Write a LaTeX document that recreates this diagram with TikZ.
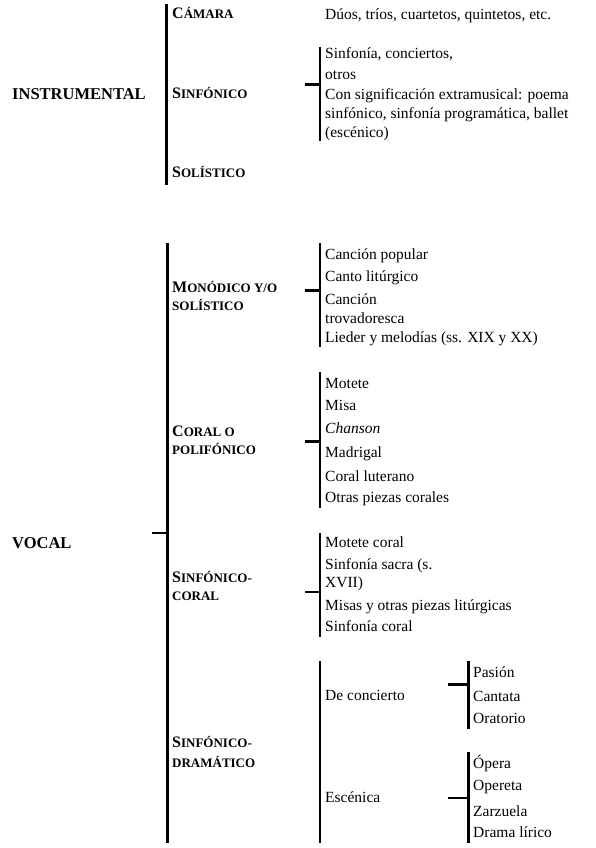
\documentclass[tikz,border=0pt]{standalone}
\usepackage{fontspec}
\setmainfont{Liberation Serif}
\newcommand{\bodyfont}{\fontsize{15.5}{19}\selectfont}
\newcommand{\scap}[2]{{\fontsize{16}{16}\selectfont #1}{\fontsize{13}{13}\selectfont #2}}
\newcommand{\smc}[1]{{\fontsize{13}{13}\selectfont #1}}
\tikzset{
  txt/.style={anchor=base west, inner sep=0pt, font=\bodyfont},
  head/.style={anchor=base west, inner sep=0pt, font=\fontsize{16.5}{16.5}\selectfont\bfseries},
  sub/.style={anchor=base west, inner sep=0pt, font=\bfseries},
  thickbar/.style={line width=3pt},
  thinbar/.style={line width=1.8pt}
}
\begin{document}
\begin{tikzpicture}[x=1pt,y=-1pt]
\useasboundingbox[fill=white] (0,0) rectangle (596,848);

% ---------- INSTRUMENTAL ----------
\node[head] (instr) at (12,99.5) {INSTRUMENTAL};
\node[sub] (camara) at (172,18.5) {\scap{C}{ÁMARA}};
\node[sub] (sinf) at (172,98.5) {\scap{S}{INFÓNICO}};
\node[sub] (solis) at (172,177.5) {\scap{S}{OLÍSTICO}};
\node[txt] (duos) at (325,19.5) {Dúos, tríos, cuartetos, quintetos, etc.};
\node[txt] (s1) at (325,58.5) {Sinfonía, conciertos,};
\node[txt] (s2) at (325,79.5) {otros};
\node[txt] (s3) at (325,99.5) {Con significación extramusical: poema};
\node[txt] (s4) at (325,118.5) {sinfónico, sinfonía programática, ballet};
\node[txt] (s5) at (325,137.5) {(escénico)};

\coordinate (iT) at (166,4);   \coordinate (iB) at (166,185);
\draw[thickbar] (iT) -- (iB);
\coordinate (sfT) at (320,47); \coordinate (sfB) at (320,141);
\coordinate (sfK) at (305,85); \coordinate (sfJ) at (320,85);
\draw[thinbar] (sfT) -- (sfB);
\draw[thickbar] (sfK) -- (sfJ);

% ---------- VOCAL ----------
\node[head] (vocal) at (12,548.5) {VOCAL};
\coordinate (vT) at (167,243); \coordinate (vB) at (167,843);
\coordinate (vK) at (152,533); \coordinate (vJ) at (167,533);
\draw[thickbar] (vT) -- (vB);
\draw[thinbar] (vK) -- (vJ);

% Monodico
\node[sub] (monoA) at (172,292.5) {\scap{M}{ONÓDICO Y/O}};
\node[sub] (monoB) at (172,310.5) {\smc{SOLÍSTICO}};
\node[txt] (m1) at (325,259.5) {Canción popular};
\node[txt] (m2) at (325,281.5) {Canto litúrgico};
\node[txt] (m3) at (325,304.5) {Canción};
\node[txt] (m4) at (325,323.5) {trovadoresca};
\node[txt] (m5) at (325,342.5) {Lieder y melodías (ss. XIX y XX)};
\coordinate (mT) at (320,243); \coordinate (mB) at (320,347);
\coordinate (mK) at (305,290); \coordinate (mJ) at (320,290);
\draw[thinbar] (mT) -- (mB);
\draw[thickbar] (mK) -- (mJ);

% Coral
\node[sub] (coralA) at (172,436.5) {\scap{C}{ORAL O}};
\node[sub] (coralB) at (172,454.5) {\smc{POLIFÓNICO}};
\node[txt] (c1) at (325,388.5) {Motete};
\node[txt] (c2) at (325,410.5) {Misa};
\node[txt] (c3) at (325,433.5) {\itshape Chanson};
\node[txt] (c4) at (325,457.5) {Madrigal};
\node[txt] (c5) at (325,481.5) {Coral luterano};
\node[txt] (c6) at (325,502.5) {Otras piezas corales};
\coordinate (cT) at (320,372); \coordinate (cB) at (320,508);
\coordinate (cK) at (305,441); \coordinate (cJ) at (320,441);
\draw[thinbar] (cT) -- (cB);
\draw[thickbar] (cK) -- (cJ);

% Sinfonico-coral
\node[sub] (scA) at (172,582.5) {\scap{S}{INFÓNICO-}};
\node[sub] (scB) at (172,600.5) {\smc{CORAL}};
\node[txt] (k1) at (325,547.5) {Motete coral};
\node[txt] (k2) at (325,569.5) {Sinfonía sacra (s.};
\node[txt] (k3) at (325,587.5) {XVII)};
\node[txt] (k4) at (325,610.5) {Misas y otras piezas litúrgicas};
\node[txt] (k5) at (325,631.5) {Sinfonía coral};
\coordinate (kT) at (320,533); \coordinate (kB) at (320,637);
\coordinate (kK) at (305,592); \coordinate (kJ) at (320,592);
\draw[thinbar] (kT) -- (kB);
\draw[thinbar] (kK) -- (kJ);

% Sinfonico-dramatico
\node[sub] (sdA) at (172,747.5) {\scap{S}{INFÓNICO-}};
\node[sub] (sdB) at (172,767.5) {\smc{DRAMÁTICO}};
\coordinate (dT) at (320,661); \coordinate (dB) at (320,843);
\draw[thinbar] (dT) -- (dB);
\node[txt] (conc) at (325,700.5) {De concierto};
\node[txt] (esc) at (325,802.5) {Escénica};

\node[txt] (p1) at (473,677.5) {Pasión};
\node[txt] (p2) at (473,701.5) {Cantata};
\node[txt] (p3) at (473,723.5) {Oratorio};
\coordinate (pT) at (468,661); \coordinate (pB) at (468,729);
\coordinate (pK) at (448,684); \coordinate (pJ) at (468,684);
\draw[thickbar] (pT) -- (pB);
\draw[thickbar] (pK) -- (pJ);

\node[txt] (e1) at (473,768.5) {Ópera};
\node[txt] (e2) at (473,790.5) {Opereta};
\node[txt] (e3) at (473,816.5) {Zarzuela};
\node[txt] (e4) at (473,837.5) {Drama lírico};
\coordinate (eT) at (468,752); \coordinate (eB) at (468,843);
\coordinate (eK) at (448,798); \coordinate (eJ) at (468,798);
\draw[thickbar] (eT) -- (eB);
\draw[thinbar] (eK) -- (eJ);
\end{tikzpicture}
\end{document}
